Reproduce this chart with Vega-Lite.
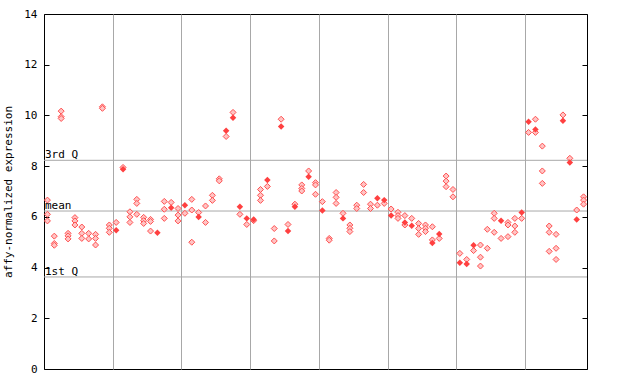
{
  "$schema": "https://vega.github.io/schema/vega-lite/v6.json",
  "width": 543,
  "height": 355,
  "autosize": {"type": "none"},
  "padding": {"left": 44, "top": 14, "right": 53, "bottom": 15},
  "background": "white",
  "config": {
    "view": {"stroke": "black", "strokeWidth": 1},
    "font": "DejaVu Sans Mono",
    "axis": {"labelFont": "DejaVu Sans Mono", "titleFont": "DejaVu Sans Mono"}
  },
  "datasets": {
    "qs": [
      {"label": "3rd Q", "v": 8.23},
      {"label": "mean", "v": 6.23},
      {"label": "1st Q", "v": 3.63}
    ],
    "pts": [
      {"s":1,"v":6.66,"k":"a"},{"s":1,"v":6.10,"k":"a"},{"s":1,"v":5.84,"k":"a"},
      {"s":2,"v":5.24,"k":"a"},{"s":2,"v":4.95,"k":"a"},{"s":2,"v":4.88,"k":"a"},
      {"s":3,"v":10.17,"k":"a"},{"s":3,"v":9.95,"k":"a"},{"s":3,"v":9.88,"k":"a"},
      {"s":4,"v":5.35,"k":"a"},{"s":4,"v":5.25,"k":"a"},{"s":4,"v":5.13,"k":"a"},
      {"s":5,"v":5.97,"k":"a"},{"s":5,"v":5.84,"k":"a"},{"s":5,"v":5.68,"k":"a"},
      {"s":6,"v":5.60,"k":"a"},{"s":6,"v":5.35,"k":"a"},{"s":6,"v":5.15,"k":"a"},
      {"s":7,"v":5.35,"k":"a"},{"s":7,"v":5.13,"k":"a"},
      {"s":8,"v":5.31,"k":"a"},{"s":8,"v":5.15,"k":"a"},{"s":8,"v":4.89,"k":"a"},
      {"s":9,"v":10.34,"k":"a"},{"s":9,"v":10.28,"k":"a"},
      {"s":10,"v":5.68,"k":"a"},{"s":10,"v":5.55,"k":"a"},{"s":10,"v":5.39,"k":"a"},
      {"s":11,"v":5.78,"k":"a"},{"s":11,"v":5.47,"k":"b"},
      {"s":12,"v":7.95,"k":"a"},{"s":12,"v":7.88,"k":"b"},
      {"s":13,"v":6.20,"k":"a"},{"s":13,"v":6.00,"k":"a"},{"s":13,"v":5.78,"k":"a"},
      {"s":14,"v":6.69,"k":"a"},{"s":14,"v":6.53,"k":"a"},{"s":14,"v":6.10,"k":"a"},
      {"s":15,"v":5.98,"k":"a"},{"s":15,"v":5.85,"k":"a"},{"s":15,"v":5.74,"k":"a"},
      {"s":16,"v":5.90,"k":"a"},{"s":16,"v":5.82,"k":"a"},{"s":16,"v":5.44,"k":"a"},
      {"s":17,"v":5.37,"k":"b"},
      {"s":18,"v":6.61,"k":"a"},{"s":18,"v":6.30,"k":"a"},{"s":18,"v":5.94,"k":"a"},
      {"s":19,"v":6.57,"k":"a"},{"s":19,"v":6.36,"k":"b"},
      {"s":20,"v":6.33,"k":"a"},{"s":20,"v":6.07,"k":"a"},{"s":20,"v":5.84,"k":"a"},
      {"s":21,"v":6.46,"k":"b"},{"s":21,"v":6.14,"k":"a"},
      {"s":22,"v":6.69,"k":"a"},{"s":22,"v":6.27,"k":"a"},{"s":22,"v":5.00,"k":"a"},
      {"s":23,"v":6.17,"k":"a"},{"s":23,"v":5.99,"k":"b"},
      {"s":24,"v":6.43,"k":"a"},{"s":24,"v":5.78,"k":"a"},
      {"s":25,"v":6.85,"k":"a"},{"s":25,"v":6.65,"k":"a"},
      {"s":26,"v":7.50,"k":"a"},{"s":26,"v":7.42,"k":"a"},
      {"s":27,"v":9.40,"k":"b"},{"s":27,"v":9.17,"k":"a"},
      {"s":28,"v":10.12,"k":"a"},{"s":28,"v":9.91,"k":"b"},
      {"s":29,"v":6.40,"k":"b"},{"s":29,"v":6.10,"k":"a"},
      {"s":30,"v":5.94,"k":"b"},{"s":30,"v":5.70,"k":"a"},
      {"s":31,"v":5.90,"k":"b"},{"s":31,"v":5.85,"k":"a"},
      {"s":32,"v":7.08,"k":"a"},{"s":32,"v":6.85,"k":"a"},{"s":32,"v":6.65,"k":"a"},
      {"s":33,"v":7.45,"k":"b"},{"s":33,"v":7.20,"k":"a"},
      {"s":34,"v":5.54,"k":"a"},{"s":34,"v":5.05,"k":"a"},
      {"s":35,"v":9.85,"k":"a"},{"s":35,"v":9.56,"k":"b"},
      {"s":36,"v":5.70,"k":"a"},{"s":36,"v":5.44,"k":"b"},
      {"s":37,"v":6.50,"k":"a"},{"s":37,"v":6.40,"k":"b"},
      {"s":38,"v":7.26,"k":"a"},{"s":38,"v":7.12,"k":"a"},{"s":38,"v":7.02,"k":"a"},
      {"s":39,"v":7.81,"k":"a"},{"s":39,"v":7.58,"k":"b"},
      {"s":40,"v":7.35,"k":"a"},{"s":40,"v":7.26,"k":"a"},{"s":40,"v":6.89,"k":"a"},
      {"s":41,"v":6.60,"k":"a"},{"s":41,"v":6.25,"k":"b"},
      {"s":42,"v":5.15,"k":"a"},{"s":42,"v":5.08,"k":"a"},
      {"s":43,"v":6.96,"k":"a"},{"s":43,"v":6.77,"k":"a"},{"s":43,"v":6.53,"k":"a"},
      {"s":44,"v":6.14,"k":"a"},{"s":44,"v":5.94,"k":"b"},
      {"s":45,"v":5.68,"k":"a"},{"s":45,"v":5.55,"k":"a"},{"s":45,"v":5.42,"k":"a"},
      {"s":46,"v":6.46,"k":"a"},{"s":46,"v":6.33,"k":"a"},
      {"s":47,"v":7.28,"k":"a"},{"s":47,"v":6.96,"k":"a"},
      {"s":48,"v":6.50,"k":"a"},{"s":48,"v":6.33,"k":"a"},
      {"s":49,"v":6.73,"k":"b"},{"s":49,"v":6.46,"k":"a"},
      {"s":50,"v":6.66,"k":"b"},{"s":50,"v":6.53,"k":"a"},
      {"s":51,"v":6.31,"k":"a"},{"s":51,"v":6.05,"k":"b"},
      {"s":52,"v":6.18,"k":"a"},{"s":52,"v":6.05,"k":"a"},{"s":52,"v":5.94,"k":"a"},
      {"s":53,"v":6.05,"k":"a"},{"s":53,"v":5.78,"k":"b"},{"s":53,"v":5.68,"k":"a"},
      {"s":54,"v":5.94,"k":"a"},{"s":54,"v":5.65,"k":"b"},
      {"s":55,"v":5.74,"k":"a"},{"s":55,"v":5.54,"k":"a"},{"s":55,"v":5.31,"k":"a"},
      {"s":56,"v":5.68,"k":"a"},{"s":56,"v":5.55,"k":"a"},{"s":56,"v":5.42,"k":"a"},
      {"s":57,"v":5.61,"k":"a"},{"s":57,"v":5.09,"k":"a"},{"s":57,"v":4.97,"k":"b"},
      {"s":58,"v":5.32,"k":"b"},{"s":58,"v":5.15,"k":"a"},
      {"s":59,"v":7.61,"k":"a"},{"s":59,"v":7.41,"k":"a"},{"s":59,"v":7.19,"k":"a"},
      {"s":60,"v":7.08,"k":"a"},{"s":60,"v":6.79,"k":"a"},
      {"s":61,"v":4.56,"k":"a"},{"s":61,"v":4.19,"k":"b"},
      {"s":62,"v":4.32,"k":"a"},{"s":62,"v":4.14,"k":"b"},
      {"s":63,"v":4.88,"k":"b"},{"s":63,"v":4.67,"k":"a"},
      {"s":64,"v":4.89,"k":"a"},{"s":64,"v":4.41,"k":"a"},{"s":64,"v":4.06,"k":"a"},
      {"s":65,"v":5.51,"k":"a"},{"s":65,"v":4.76,"k":"a"},
      {"s":66,"v":6.14,"k":"a"},{"s":66,"v":5.94,"k":"a"},{"s":66,"v":5.39,"k":"a"},
      {"s":67,"v":5.85,"k":"b"},{"s":67,"v":5.15,"k":"a"},
      {"s":68,"v":5.78,"k":"a"},{"s":68,"v":5.68,"k":"a"},{"s":68,"v":5.22,"k":"a"},
      {"s":69,"v":5.94,"k":"a"},{"s":69,"v":5.64,"k":"a"},{"s":69,"v":5.39,"k":"a"},
      {"s":70,"v":6.17,"k":"b"},{"s":70,"v":5.94,"k":"a"},
      {"s":71,"v":9.75,"k":"b"},{"s":71,"v":9.33,"k":"a"},
      {"s":72,"v":9.85,"k":"a"},{"s":72,"v":9.45,"k":"b"},{"s":72,"v":9.33,"k":"a"},
      {"s":73,"v":8.79,"k":"a"},{"s":73,"v":7.81,"k":"a"},{"s":73,"v":7.32,"k":"a"},
      {"s":74,"v":5.64,"k":"a"},{"s":74,"v":5.39,"k":"a"},{"s":74,"v":4.64,"k":"a"},
      {"s":75,"v":5.31,"k":"a"},{"s":75,"v":4.76,"k":"a"},{"s":75,"v":4.32,"k":"a"},
      {"s":76,"v":10.02,"k":"a"},{"s":76,"v":9.79,"k":"b"},
      {"s":77,"v":8.31,"k":"a"},{"s":77,"v":8.14,"k":"b"},
      {"s":78,"v":6.27,"k":"a"},{"s":78,"v":5.90,"k":"b"},
      {"s":79,"v":6.79,"k":"a"},{"s":79,"v":6.66,"k":"a"},{"s":79,"v":6.50,"k":"a"}
    ]
  },
  "resolve": {"axis": {"y": "independent"}},
  "layer": [
    {
      "data": {"name": "qs"},
      "mark": {"type": "rule", "color": "#a8a8a8", "strokeWidth": 1},
      "encoding": {
        "y": {
          "field": "v", "type": "quantitative",
          "scale": {"domain": [0, 14], "nice": false, "zero": false},
          "axis": {
            "orient": "right", "values": [0, 2, 4, 6, 8, 10, 12, 14],
            "labels": false, "title": null, "grid": false, "domain": false,
            "ticks": true, "tickSize": -5, "tickColor": "black"
          }
        }
      }
    },
    {
      "data": {"name": "pts"},
      "transform": [{"filter": "datum.k === 'a'"}],
      "mark": {"type": "point", "shape": "diamond", "filled": false, "size": 36, "fill": "#ffc4c4", "fillOpacity": 1, "stroke": "#ff5050", "strokeWidth": 1, "opacity": 1},
      "encoding": {
        "x": {
          "field": "s", "type": "quantitative",
          "scale": {"domain": [0.5, 79.5], "nice": false, "zero": false},
          "axis": {
            "values": [10.5, 20.5, 30.5, 40.5, 50.5, 60.5, 70.5],
            "grid": true, "gridColor": "#a8a8a8", "gridOpacity": 1,
            "labels": false, "ticks": false, "domain": false, "title": null
          }
        },
        "y": {
          "field": "v", "type": "quantitative",
          "scale": {"domain": [0, 14], "nice": false, "zero": false},
          "axis": {
            "orient": "left", "values": [0, 2, 4, 6, 8, 10, 12, 14],
            "title": "affy-normalized expression", "titleFontSize": 11,
            "titleFontWeight": "normal", "titleColor": "black", "titlePadding": 10,
            "labelFontSize": 11, "labelColor": "black", "labelPadding": 12,
            "grid": false, "domain": false, "ticks": true, "tickSize": -5, "tickColor": "black"
          }
        }
      }
    },
    {
      "data": {"name": "pts"},
      "transform": [{"filter": "datum.k === 'b'"}],
      "mark": {"type": "point", "shape": "diamond", "filled": true, "size": 42, "color": "#ff4040", "opacity": 1},
      "encoding": {
        "x": {"field": "s", "type": "quantitative"},
        "y": {"field": "v", "type": "quantitative", "axis": null}
      }
    },
    {
      "data": {"name": "qs"},
      "mark": {"type": "text", "align": "left", "baseline": "bottom", "dy": 0, "dx": 1, "fontSize": 11, "font": "DejaVu Sans Mono", "color": "black"},
      "encoding": {
        "x": {"datum": 0.5, "type": "quantitative"},
        "y": {"field": "v", "type": "quantitative", "axis": null},
        "text": {"field": "label"}
      }
    }
  ]
}
